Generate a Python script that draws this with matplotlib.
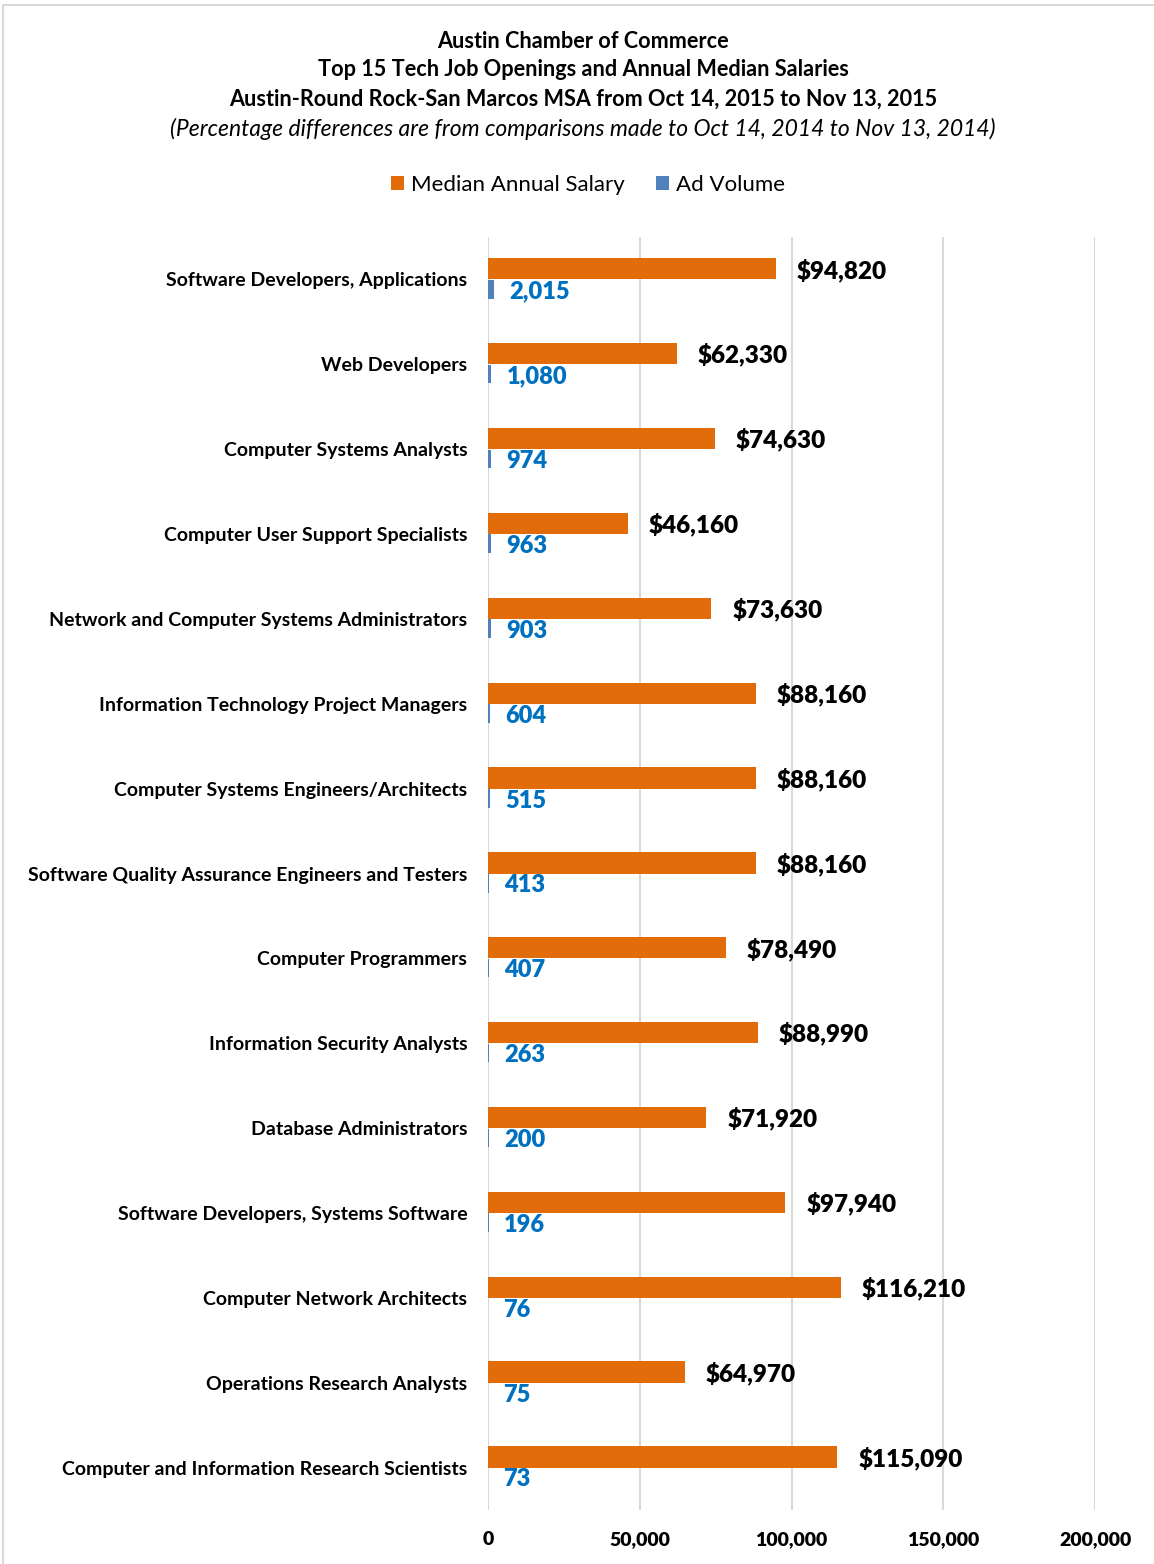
import matplotlib.pyplot as plt
from matplotlib.patches import Rectangle

plt.rcParams['font.family'] = ['Lato', 'DejaVu Sans']

jobs = [
    "Software Developers, Applications",
    "Web Developers",
    "Computer Systems Analysts",
    "Computer User Support Specialists",
    "Network and Computer Systems Administrators",
    "Information Technology Project Managers",
    "Computer Systems Engineers/Architects",
    "Software Quality Assurance Engineers and Testers",
    "Computer Programmers",
    "Information Security Analysts",
    "Database Administrators",
    "Software Developers, Systems Software",
    "Computer Network Architects",
    "Operations Research Analysts",
    "Computer and Information Research Scientists",
]
salary = [94820, 62330, 74630, 46160, 73630, 88160, 88160, 88160,
          78490, 88990, 71920, 97940, 116210, 64970, 115090]
ads = [2015, 1080, 974, 963, 903, 604, 515, 413, 407, 263, 200, 196, 76, 75, 73]
xticks = [0, 50000, 100000, 150000, 200000]

orange = '#E36C0A'
blue = '#4F81BD'
blue_txt = '#0070C0'

W, H = 1154, 1564
fig = plt.figure(figsize=(W / 100, H / 100), dpi=100)
ax = fig.add_axes([488 / W, 1 - 1510 / H, (1095 - 488) / W, (1510 - 237) / H])

pos = list(range(len(jobs)))
ax.barh([p - 0.125 for p in pos], salary, height=0.25, color=orange, label='Median Annual Salary', zorder=3)
ax.barh([p + 0.115 for p in pos], ads, height=0.22, color=blue, label='Ad Volume', zorder=3)

for p, s, a in zip(pos, salary, ads):
    ax.annotate(f"${s:,}", (s, p - 0.11), xytext=(15, 0), textcoords='offset points',
                ha='left', va='center', fontsize=17.5, weight=800, color='black')
    ax.annotate(f"{a:,}", (a, p + 0.14), xytext=(11, 0), textcoords='offset points',
                ha='left', va='center', fontsize=17, weight=800, color=blue_txt)

ax.set_xlim(0, 200000)
ax.set_ylim(len(jobs) - 0.5, -0.5)
ax.set_xticks(xticks)
ax.set_xticklabels([f"{t:,}" for t in xticks], fontsize=14, weight=800)
ax.set_yticks(pos)
ax.set_yticklabels(jobs, fontsize=14, weight=700)
ax.tick_params(axis='both', length=0)
ax.tick_params(axis='x', pad=15)
ax.tick_params(axis='y', pad=15)
ax.grid(axis='x', color='#D9D9D9', linewidth=1.5, zorder=0)
for sp in ax.spines.values():
    sp.set_visible(False)

# title block
tx = 583 / W
fig.text(tx, 1 - 41 / H, "Austin Chamber of Commerce", ha='center', va='center', fontsize=15.6, weight=700)
fig.text(tx, 1 - 70 / H, "Top 15 Tech Job Openings and Annual Median Salaries", ha='center', va='center', fontsize=15.6, weight=700)
fig.text(tx, 1 - 99 / H, "Austin-Round Rock-San Marcos MSA from Oct 14, 2015 to Nov 13, 2015", ha='center', va='center', fontsize=15.6, weight=700)
fig.text(tx, 1 - 129 / H, "(Percentage differences are from comparisons made to Oct 14, 2014 to Nov 13, 2014)",
         ha='center', va='center', fontsize=16.5, style='italic')

fig.legend(loc='center', bbox_to_anchor=(588 / W, 1 - 185 / H), ncol=2, frameon=False,
           fontsize=16, handlelength=0.6, handleheight=0.6, columnspacing=1.4, handletextpad=0.3)

# outer frame
fig.patches.append(Rectangle((3 / W, -0.01), 1.02, 1 - 5 / H + 0.01, transform=fig.transFigure,
                             fill=False, edgecolor='#D9D9D9', linewidth=1.5))

fig.savefig('out.png', dpi=100)
